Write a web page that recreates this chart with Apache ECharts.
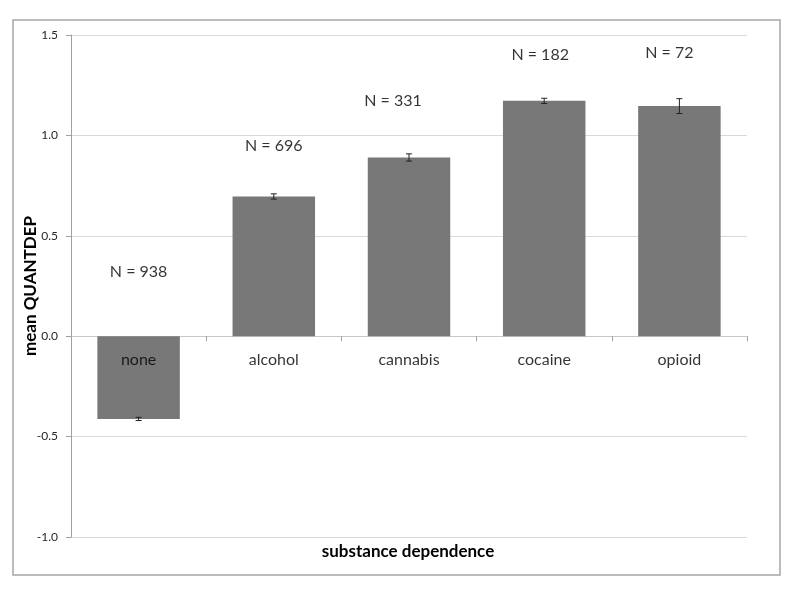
<!DOCTYPE html>
<html>
<head>
<meta charset="utf-8">
<script src="https://cdn.jsdelivr.net/npm/echarts@6/dist/echarts.min.js"></script>
<style>
html,body{margin:0;padding:0;background:#fff;}
#c{width:800px;height:589px;}
</style>
</head>
<body>
<div id="c"></div>
<script>
const categories = ['none', 'alcohol', 'cannabis', 'cocaine', 'opioid'];
const meanValues = [-0.412, 0.696, 0.890, 1.172, 1.146];
const errorValues = [0.008, 0.013, 0.018, 0.013, 0.037];
const nLabels = ['N = 938', 'N = 696', 'N = 331', 'N = 182', 'N = 72'];
const nLabelY = [0.32, 0.95, 1.17, 1.40, 1.41];
const yTicks = { min: -1.0, max: 1.5, interval: 0.5 };

// horizontal nudges (px) of the hand-placed "N =" text boxes
const annotationNudgeX = [0, 0, -16, -4, -10];

const FONT = 'Lato, "Open Sans", sans-serif';
const chart = echarts.init(document.getElementById('c'), null, { renderer: 'canvas' });

const errData = categories.map((c, i) => [i, meanValues[i] - errorValues[i], meanValues[i] + errorValues[i]]);
const annData = categories.map((c, i) => ({
  value: [i, nLabelY[i]],
  label: { formatter: nLabels[i], offset: [annotationNudgeX[i], 0] }
}));
const catLabelData = categories.map((c, i) => ({ value: [i, 0], label: { formatter: c } }));

chart.setOption({
  animation: false,
  backgroundColor: '#fff',
  grid: { left: 71, right: 53, top: 35, bottom: 52, containLabel: false },
  graphic: [
    { type: 'rect', shape: { x: 13, y: 20, width: 767, height: 555 },
      style: { fill: 'none', stroke: '#a6a6a6', lineWidth: 1.5 }, z: -1 },
    { type: 'text', x: 408, y: 552,
      style: { text: 'substance dependence', fontFamily: FONT, fontSize: 17, fontWeight: 'bold',
               fill: '#000', align: 'center', verticalAlign: 'middle' } },
    { type: 'text', x: 31, y: 286, rotation: Math.PI / 2,
      style: { text: 'mean QUANTDEP', fontFamily: FONT, fontSize: 17, fontWeight: 'bold',
               fill: '#000', align: 'center', verticalAlign: 'middle' } }
  ],
  xAxis: {
    type: 'category',
    data: categories,
    axisLine: { onZero: true, lineStyle: { color: '#c8c8c8', width: 1 } },
    axisTick: { show: true, length: 5, lineStyle: { color: '#a0a0a0' } },
    axisLabel: { show: false },
    splitLine: { show: false }
  },
  yAxis: {
    type: 'value',
    min: yTicks.min, max: yTicks.max, interval: yTicks.interval,
    axisLine: { show: true, lineStyle: { color: '#a0a0a0' } },
    axisTick: { show: true, length: 5, lineStyle: { color: '#a0a0a0' } },
    axisLabel: { margin: 13, fontFamily: FONT, fontSize: 12, color: '#262626',
                 formatter: v => v.toFixed(1) },
    splitLine: { show: true, lineStyle: { color: '#d9d9d9', width: 1 } }
  },
  series: [
    {
      type: 'bar',
      data: meanValues,
      barWidth: '61%',
      itemStyle: { color: '#787878' },
      z: 2
    },
    {
      type: 'custom',
      data: errData,
      z: 5,
      renderItem: function (params, api) {
        const i = api.value(0);
        const lo = api.coord([i, api.value(1)]);
        const hi = api.coord([i, api.value(2)]);
        const hw = 3;
        const st = { stroke: '#222', lineWidth: 1 };
        return {
          type: 'group',
          children: [
            { type: 'line', shape: { x1: lo[0], y1: lo[1], x2: hi[0], y2: hi[1] }, style: st },
            { type: 'line', shape: { x1: lo[0] - hw, y1: lo[1], x2: lo[0] + hw, y2: lo[1] }, style: st },
            { type: 'line', shape: { x1: hi[0] - hw, y1: hi[1], x2: hi[0] + hw, y2: hi[1] }, style: st }
          ]
        };
      }
    },
    {
      type: 'scatter',
      data: annData,
      symbolSize: 0,
      silent: true,
      label: { show: true, position: 'inside', fontFamily: FONT, fontSize: 16, color: '#000' },
      z: 6
    },
    {
      type: 'scatter',
      data: catLabelData,
      symbolSize: 0,
      silent: true,
      label: { show: true, position: 'inside', offset: [0, 24], fontFamily: FONT, fontSize: 16, color: '#000' },
      z: 7
    }
  ]
});
</script>
</body>
</html>
